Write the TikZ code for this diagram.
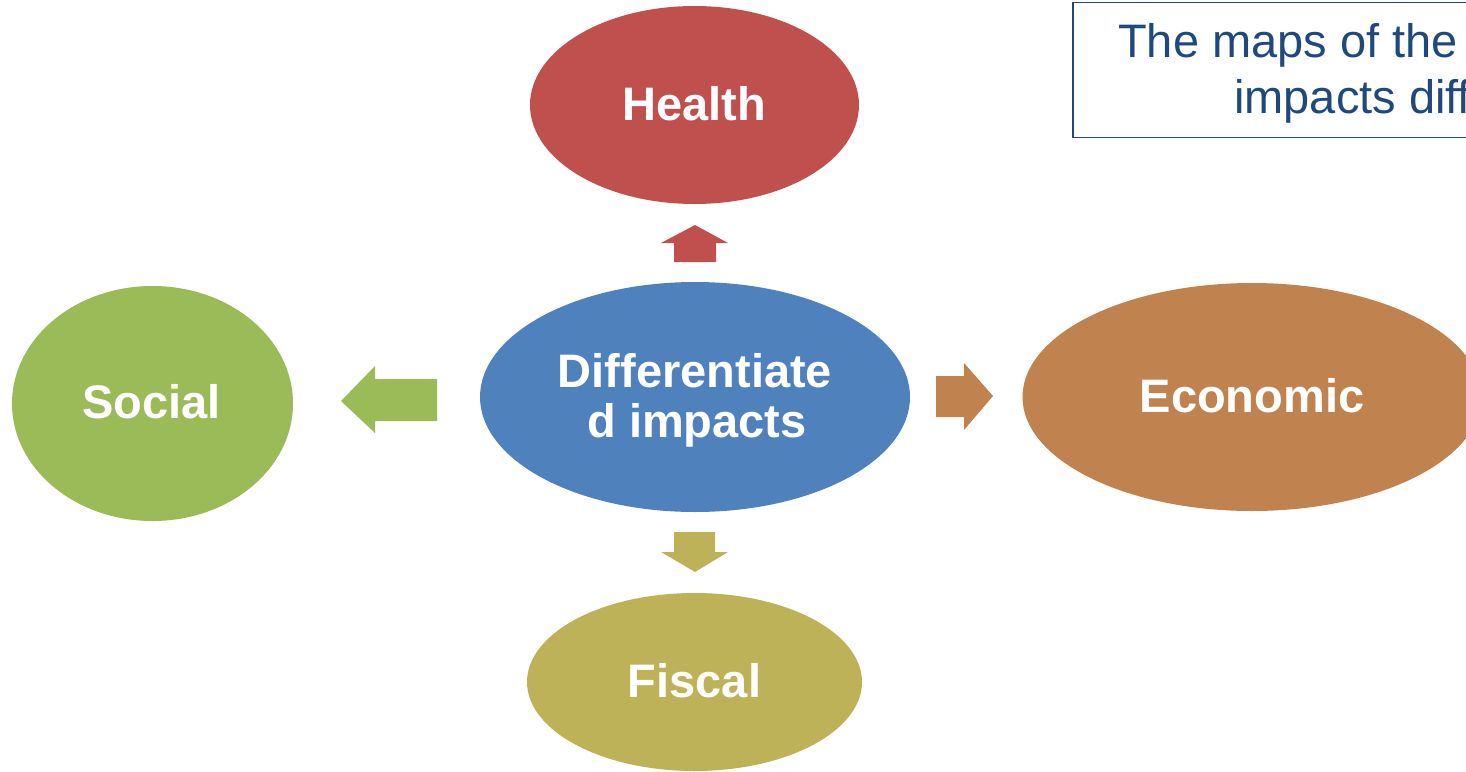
\documentclass[tikz,border=0pt]{standalone}
\usepackage{fontspec}
\setmainfont{Liberation Sans}
\usetikzlibrary{shapes.geometric}
\definecolor{healthc}{RGB}{192,80,77}
\definecolor{centerc}{RGB}{79,129,189}
\definecolor{socialc}{RGB}{155,187,89}
\definecolor{econc}{RGB}{192,131,80}
\definecolor{fiscalc}{RGB}{190,178,88}
\definecolor{boxc}{RGB}{31,73,125}
\tikzset{
  blob/.style={ellipse, inner sep=0pt, draw=none},
  lbl/.style={anchor=base, inner sep=0pt, text=white, font=\fontsize{47}{50}\selectfont\bfseries},
  boxtext/.style={anchor=base west, inner sep=0pt, text=boxc, font=\fontsize{47}{56}\selectfont},
}
\begin{document}
\begin{tikzpicture}[x=1pt,y=-1pt]
\useasboundingbox (0,0) rectangle (1466,771);
\clip (0,0) rectangle (1466,771);
\fill[white] (0,0) rectangle (1466,771);
% ellipses
\node[blob, fill=healthc, minimum width=329pt, minimum height=198pt] (health) at (694.5,105) {};
\node[blob, fill=centerc, minimum width=430pt, minimum height=230pt] (center) at (695,397) {};
\node[blob, fill=socialc, minimum width=281pt, minimum height=235pt] (social) at (152.5,403.5) {};
\node[blob, fill=econc, minimum width=459pt, minimum height=228pt] (econ) at (1252,397) {};
\node[blob, fill=fiscalc, minimum width=335pt, minimum height=178pt] (fiscal) at (694.5,682) {};
% labels
\node[lbl] (thealth) at (694.5,120) {Health};
\node[lbl] (tsocial) at (151.5,418) {Social};
\node[lbl] (tecon) at (1252,412) {Economic};
\node[lbl] (tfiscal) at (694.5,697) {Fiscal};
\node[lbl] (tcenter1) at (695,387) {Differentiate};
\node[lbl] (tcenter2) at (697,437) {d impacts};
% block arrows
\fill[healthc] (674,262) -- (674,243) -- (661,243) -- (695,225) -- (728,243) -- (716,243) -- (716,262) -- cycle;
\fill[fiscalc] (674,532) -- (674,552) -- (661,552) -- (695,572) -- (728,552) -- (715,552) -- (715,532) -- cycle;
\fill[socialc] (437,379) -- (375,379) -- (375,366) -- (341,401) -- (375,433) -- (375,421) -- (437,421) -- cycle;
\fill[econc] (936,376) -- (964,376) -- (964,363) -- (993,396) -- (964,430) -- (964,417) -- (936,417) -- cycle;
% text box
\node[draw=boxc, line width=1.5pt, fill=white, anchor=north west, minimum width=500pt, minimum height=135pt, inner sep=0pt] (tbox) at (1072,1.5) {};
\node[boxtext] (tline1) at (1118,57) {The maps of the};
\node[boxtext] (tline2) at (1234,113) {impacts diff};
\end{tikzpicture}
\end{document}
